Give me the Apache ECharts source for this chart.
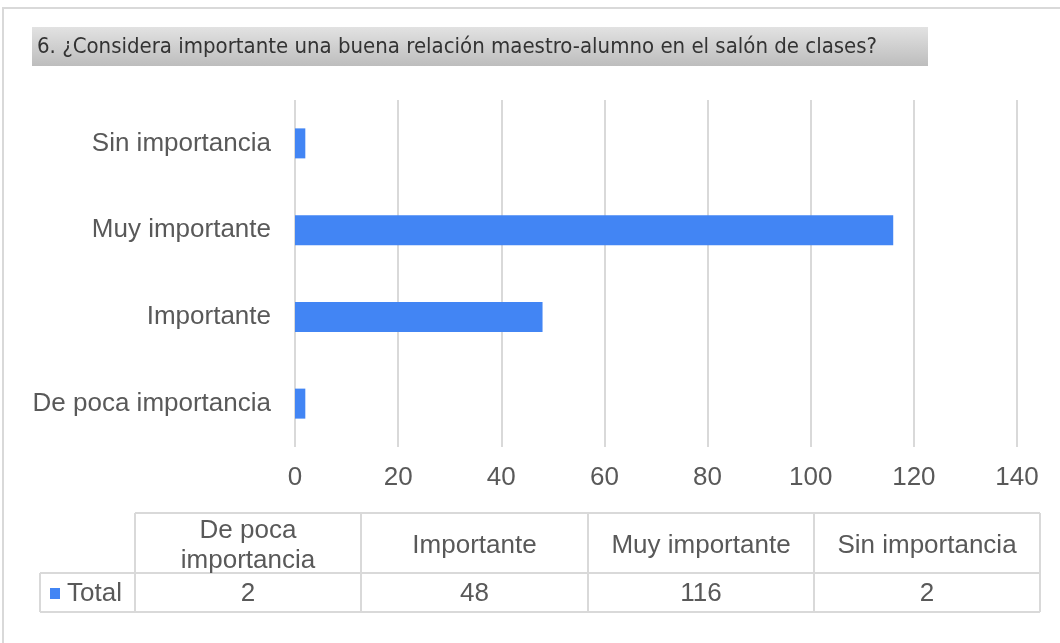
<!DOCTYPE html>
<html>
<head>
<meta charset="utf-8">
<script src="https://cdn.jsdelivr.net/npm/echarts@6/dist/echarts.min.js"></script>
<style>
  html, body { margin: 0; padding: 0; background: #fff; }
  #main { width: 1060px; height: 643px; }
</style>
</head>
<body>
<div id="main"></div>
<script>
// datos de la pregunta 6
const categorias = ['De poca importancia', 'Importante', 'Muy importante', 'Sin importancia'];
const totales = [2, 48, 116, 2];
const serieNombre = 'Total';
const titulo = '6. ¿Considera importante una buena relación maestro-alumno en el salón de clases?';

const AZUL = '#4285f4';
const GRIS_LINEA = '#d9d9d9';
const TEXTO = '#595959';
const FUENTE = '26px "Liberation Sans", Arial, sans-serif';

let myChart = echarts.init(document.getElementById('main'));

// tabla de datos debajo del grafico
const colX = [135, 361, 588, 814, 1040];
const filaY = [513, 573, 612];
let tabla = [];
// lineas horizontales
tabla.push({ type: 'line', shape: { x1: colX[0], y1: filaY[0], x2: colX[4], y2: filaY[0] }, style: { stroke: GRIS_LINEA, lineWidth: 2 } });
tabla.push({ type: 'line', shape: { x1: 40, y1: filaY[1], x2: colX[4], y2: filaY[1] }, style: { stroke: GRIS_LINEA, lineWidth: 2 } });
tabla.push({ type: 'line', shape: { x1: 40, y1: filaY[2], x2: colX[4], y2: filaY[2] }, style: { stroke: GRIS_LINEA, lineWidth: 2 } });
// lineas verticales
tabla.push({ type: 'line', shape: { x1: 40, y1: filaY[1], x2: 40, y2: filaY[2] }, style: { stroke: GRIS_LINEA, lineWidth: 2 } });
colX.forEach(x => {
    tabla.push({ type: 'line', shape: { x1: x, y1: filaY[0], x2: x, y2: filaY[2] }, style: { stroke: GRIS_LINEA, lineWidth: 2 } });
});
categorias.forEach((c, i) => {
    let cx = (colX[i] + colX[i + 1]) / 2;
    let txt = c === 'De poca importancia' ? 'De poca\nimportancia' : c;
    tabla.push({
        type: 'text', x: cx, y: (filaY[0] + filaY[1]) / 2 + 3,
        style: { text: txt, align: 'center', verticalAlign: 'middle', fill: TEXTO, font: FUENTE, lineHeight: 30 }
    });
    tabla.push({
        type: 'text', x: cx, y: (filaY[1] + filaY[2]) / 2 + 1,
        style: { text: String(totales[i]), align: 'center', verticalAlign: 'middle', fill: TEXTO, font: FUENTE }
    });
});
tabla.push({ type: 'rect', shape: { x: 50, y: 588, width: 10, height: 11 }, style: { fill: AZUL } });
tabla.push({
    type: 'text', x: 67, y: (filaY[1] + filaY[2]) / 2 + 1,
    style: { text: serieNombre, align: 'left', verticalAlign: 'middle', fill: TEXTO, font: FUENTE }
});

let option = {
    animation: false,
    backgroundColor: '#fff',
    grid: { left: 295, right: 43, top: 100, bottom: 196 },
    xAxis: {
        type: 'value',
        min: 0,
        max: 140,
        interval: 20,
        axisLine: { show: false },
        axisTick: { show: false },
        axisLabel: { color: TEXTO, fontSize: 26, margin: 18, fontFamily: 'Liberation Sans' },
        splitLine: { lineStyle: { color: GRIS_LINEA, width: 2 } }
    },
    yAxis: {
        type: 'category',
        data: categorias,
        axisLine: { show: false },
        axisTick: { show: false },
        axisLabel: { color: TEXTO, fontSize: 26, margin: 24, fontFamily: 'Liberation Sans' }
    },
    series: [{
        name: serieNombre,
        type: 'bar',
        data: totales,
        barWidth: 30,
        itemStyle: { color: AZUL }
    }],
    graphic: [
        // marco exterior
        { type: 'rect', shape: { x: 3, y: 8, width: 1100, height: 700 }, style: { fill: 'none', stroke: GRIS_LINEA, lineWidth: 2 } },
        // caja del titulo
        {
            type: 'rect', shape: { x: 32, y: 27, width: 896, height: 39 },
            style: {
                fill: new echarts.graphic.LinearGradient(0, 0, 0, 1, [
                    { offset: 0, color: '#e2e2e2' },
                    { offset: 1, color: '#bdbdbd' }
                ])
            }
        },
        {
            type: 'text', x: 37, y: 47,
            style: { text: titulo, verticalAlign: 'middle', fill: '#333', font: '22px "DejaVu Sans Condensed", sans-serif' }
        }
    ].concat(tabla)
};

myChart.setOption(option);
</script>
</body>
</html>
